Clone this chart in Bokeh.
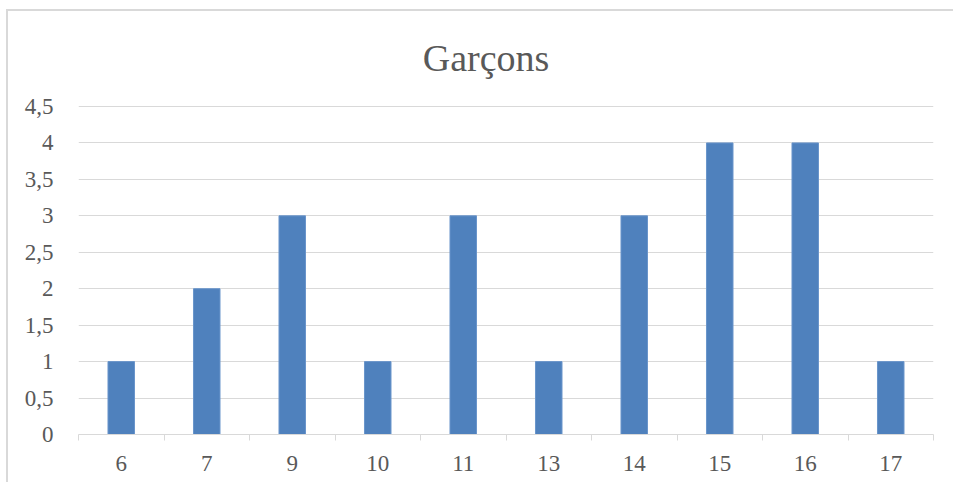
from bokeh.plotting import figure
from bokeh.models import FixedTicker, Range1d, Label
from bokeh.embed import file_html
from bokeh.resources import INLINE

categories = ["6", "7", "9", "10", "11", "13", "14", "15", "16", "17"]
values = [1, 2, 3, 1, 3, 1, 3, 4, 4, 1]
y_ticks = [0, 0.5, 1, 1.5, 2, 2.5, 3, 3.5, 4, 4.5]
y_tick_labels = ["0", "0,5", "1", "1,5", "2", "2,5", "3", "3,5", "4", "4,5"]
title_text = "Garçons"

FONT = "Liberation Serif"
TXT = "#595959"
GRID = "#d9d9d9"

n = len(categories)
centers = [i + 0.5 for i in range(n)]
bounds = [i for i in range(n + 1)]

# the frame extends up to the top edge so the title (a Label) can sit in it;
# gridlines/ticks stop at 4.5
p = figure(width=947, height=473, output_backend="svg", toolbar_location=None,
           x_range=Range1d(0, n), y_range=Range1d(0, 5.803),
           min_border_left=70, min_border_right=22, min_border_top=0, min_border_bottom=50)
p.styles = {"border-left": "2px solid #d9d9d9", "border-top": "2px solid #d9d9d9",
            "margin-left": "6px", "margin-top": "9px"}

title = Label(x=4.766, y=5.17, text=title_text, text_align="center", text_baseline="alphabetic",
              text_font=FONT, text_font_size="38px", text_color=TXT)
p.add_layout(title)

p.vbar(x=centers, top=values, width=0.31, bottom=0,
       fill_color="#4f81bd", line_color="#6a95cb", line_width=1)

p.outline_line_color = None
p.background_fill_color = "white"
p.border_fill_color = "white"

# x axis
p.xaxis.ticker = FixedTicker(ticks=centers, minor_ticks=bounds)
p.xaxis.major_label_overrides = {c: lab for c, lab in zip(centers, categories)}
p.xaxis.major_tick_line_color = None
p.xaxis.minor_tick_line_color = GRID
p.xaxis.minor_tick_out = 6
p.xaxis.minor_tick_in = 0
p.xaxis.axis_line_color = GRID
p.xaxis.axis_line_width = 1
p.xaxis.major_label_text_font = FONT
p.xaxis.major_label_text_font_size = "23px"
p.xaxis.major_label_text_color = TXT
p.xaxis.major_label_standoff = 15
p.xgrid.grid_line_color = None

# y axis
p.yaxis.ticker = FixedTicker(ticks=y_ticks)
p.yaxis.major_label_overrides = {t: lab for t, lab in zip(y_ticks, y_tick_labels)}
p.yaxis.axis_line_color = None
p.yaxis.major_tick_line_color = None
p.yaxis.minor_tick_line_color = None
p.yaxis.major_label_text_font = FONT
p.yaxis.major_label_text_font_size = "23px"
p.yaxis.major_label_text_color = TXT
p.yaxis.major_label_standoff = 19
p.ygrid.ticker = FixedTicker(ticks=y_ticks)
p.ygrid.grid_line_color = GRID
p.ygrid.grid_line_width = 1

open("out.html", "w").write(file_html(p, INLINE))
